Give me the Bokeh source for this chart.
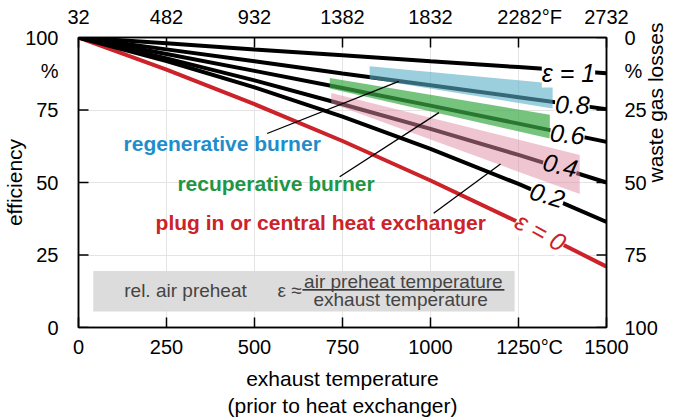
import math
from bokeh.plotting import figure
from bokeh.models import Range1d, LinearAxis, FixedTicker, Label
from bokeh.embed import file_html
from bokeh.resources import INLINE

# ---------------- data ----------------
temps_c = [0, 250, 500, 750, 1000, 1250, 1500]
eff_eps_0 = [100, 88.9, 77.0, 64.3, 50.7, 36.3, 21.0]
eff_eps_02 = [100, 91.9, 82.8, 72.7, 61.6, 49.5, 36.4]
eff_eps_04 = [100, 92.8, 85.2, 77.0, 68.5, 59.5, 50.0]
eff_eps_06 = [100, 94.3, 88.5, 82.6, 76.5, 70.3, 64.0]
eff_eps_08 = [100, 95.9, 91.8, 87.6, 83.5, 79.4, 75.3]
eff_eps_1 = [100, 98.0, 95.9, 93.9, 91.8, 89.8, 87.7]

celsius_ticks = [0, 250, 500, 750, 1000, 1250, 1500]
fahrenheit_ticks = [32, 482, 932, 1382, 1832, 2282, 2732]
efficiency_ticks = [0, 25, 50, 75, 100]
loss_ticks = [0, 25, 50, 75, 100]
percent_sign_efficiency = 88.3
percent_sign_loss = 11.7

regen_band_t = [827, 1347, 1347, 827]
regen_band_eff = [90.1, 84.1, 75.5, 85.8]
recup_band_t = [714, 1339, 1339, 714]
recup_band_eff = [86.0, 73.4, 65.2, 82.4]
plug_band_t = [718, 1424, 1424, 718]
plug_band_eff = [80.9, 59.5, 46.0, 77.3]

regen_pointer_t = [536, 910]
regen_pointer_eff = [66.9, 84.9]
recup_pointer_t = [742, 1024]
recup_pointer_eff = [52.0, 74.1]
plug_pointer_t = [1009, 1199]
plug_pointer_eff = [39.4, 56.4]

FONT = "Liberation Sans"
RED = "#cc2229"
BLUE = "#1f8dcc"
GREEN = "#1e9646"
NB = "\u00a0"

p = figure(width=682, height=420,
           x_range=Range1d(0, 1500), y_range=Range1d(0, 100),
           x_axis_location=None, y_axis_location=None,
           output_backend="svg", toolbar_location=None,
           min_border_left=78, min_border_right=76,
           min_border_top=37, min_border_bottom=92,
           background_fill_color="white", border_fill_color="white",
           outline_line_color="black", outline_line_width=1.5)

p.xgrid.ticker = FixedTicker(ticks=celsius_ticks)
p.ygrid.ticker = FixedTicker(ticks=efficiency_ticks)
p.xgrid.grid_line_color = "#e4e4e4"
p.ygrid.grid_line_color = "#e4e4e4"

p.extra_y_ranges = {"loss": Range1d(start=100, end=0)}
p.extra_x_ranges = {"fahrenheit": Range1d(start=32, end=2732)}


def style_axis(ax, standoff):
    ax.axis_line_color = "black"
    ax.axis_line_width = 1.5
    ax.major_tick_line_color = "black"
    ax.major_tick_line_width = 1.5
    ax.major_tick_in = 10
    ax.major_tick_out = 0
    ax.minor_tick_line_color = None
    ax.major_label_text_font = FONT
    ax.major_label_text_font_size = "20px"
    ax.major_label_text_color = "black"
    ax.major_label_standoff = standoff
    ax.axis_label_text_font = FONT
    ax.axis_label_text_font_size = "21px"
    ax.axis_label_text_font_style = "normal"
    ax.axis_label_text_color = "black"


bottom = LinearAxis(ticker=FixedTicker(ticks=celsius_ticks),
                    axis_label="exhaust temperature\n(prior to heat exchanger)")
style_axis(bottom, 8)
bottom.axis_label_standoff = 6
bottom.major_label_overrides = {1250: NB * 4 + "1250°C"}
p.add_layout(bottom, "below")

left = LinearAxis(ticker=FixedTicker(ticks=efficiency_ticks + [percent_sign_efficiency]),
                  axis_label="efficiency")
style_axis(left, 20)
left.major_tick_line_color = None
left.axis_label_standoff = -4
left.major_label_overrides = {percent_sign_efficiency: "%"}
p.add_layout(left, "left")

right = LinearAxis(y_range_name="loss",
                   ticker=FixedTicker(ticks=loss_ticks + [percent_sign_loss]),
                   axis_label="waste gas losses")
style_axis(right, 18)
right.major_tick_line_color = None
right.axis_label_standoff = -5
right.axis_label_orientation = math.pi / 2
right.major_label_overrides = {percent_sign_loss: "%"}
p.add_layout(right, "right")

top = LinearAxis(x_range_name="fahrenheit", ticker=FixedTicker(ticks=fahrenheit_ticks))
style_axis(top, 10)
top.major_label_overrides = {2282: NB * 4 + "2282°F"}
p.add_layout(top, "above")

# inward tick marks of the left / right axes (10 px long)
tick_len_t = 10 * 1500 / 528
p.segment(x0=[0] * len(efficiency_ticks), x1=[tick_len_t] * len(efficiency_ticks),
          y0=efficiency_ticks, y1=efficiency_ticks, line_color="black", line_width=1.5)
p.segment(x0=[1500 - tick_len_t] * len(efficiency_ticks), x1=[1500] * len(efficiency_ticks),
          y0=efficiency_ticks, y1=efficiency_ticks, line_color="black", line_width=1.5)

# legend box
p.quad(left=[42], right=[1239], top=[19.5], bottom=[5.5],
       fill_color="#dcdcdc", line_color=None)
p.add_layout(Label(x=304, y=12.7, text="rel. air preheat", text_font=FONT,
                   text_font_size="19px", text_align="center", text_baseline="middle"))
p.add_layout(Label(x=565, y=12.7, text="ε ≈", text_font=FONT,
                   text_font_size="19px", text_align="left", text_baseline="middle"))
p.add_layout(Label(x=923, y=15.9, text="air preheat temperature", text_font=FONT,
                   text_font_size="19px", text_align="center", text_baseline="middle"))
p.add_layout(Label(x=915, y=9.5, text="exhaust temperature", text_font=FONT,
                   text_font_size="19px", text_align="center", text_baseline="middle"))
p.line([636, 1210], [12.95, 12.95], line_color="black", line_width=1.3)

# efficiency lines
series = [(eff_eps_0, RED), (eff_eps_02, "black"), (eff_eps_04, "black"),
          (eff_eps_06, "black"), (eff_eps_08, "black"), (eff_eps_1, "black")]
for vals, col in series:
    p.line(temps_c, vals, line_color=col, line_width=4)

# burner bands
p.patch(plug_band_t, plug_band_eff, fill_color="#e18ca5", fill_alpha=0.5, line_color=None)
p.patch(recup_band_t, recup_band_eff, fill_color="#3caa46", fill_alpha=0.7, line_color=None)
p.patch(regen_band_t, regen_band_eff, fill_color="#5aafc8", fill_alpha=0.6, line_color=None)

# pointer lines
for xs, ys in [(regen_pointer_t, regen_pointer_eff), (recup_pointer_t, recup_pointer_eff),
               (plug_pointer_t, plug_pointer_eff)]:
    p.line(xs, ys, line_color="black", line_width=1.3)

# burner texts
p.add_layout(Label(x=128, y=63.6, text="regenerative burner", text_font=FONT,
                   text_font_style="bold", text_font_size="21px", text_color=BLUE,
                   text_align="left", text_baseline="middle"))
p.add_layout(Label(x=281, y=49.5, text="recuperative burner", text_font=FONT,
                   text_font_style="bold", text_font_size="21px", text_color=GREEN,
                   text_align="left", text_baseline="middle"))
p.add_layout(Label(x=219, y=36.1, text="plug in or central heat exchanger", text_font=FONT,
                   text_font_style="bold", text_font_size="21px", text_color=RED,
                   text_align="left", text_baseline="middle"))

# epsilon labels on the lines
eps_labels = [
    ("ε = 1", 1392, 87.6, 0.0, "black", "white"),
    ("0.8", 1403, 76.9, -0.03, "black", "white"),
    ("0.6", 1389, 66.7, -0.10, "black", "white"),
    ("0.4", 1369, 56.0, -0.22, "black", "#f0c5d2"),
    ("0.2", 1332, 45.7, -0.30, "black", "white"),
    ("ε = 0", 1313, 33.0, -0.50, RED, "white"),
]
for txt, x, y, ang, col, bg in eps_labels:
    p.add_layout(Label(x=x, y=y, text=txt, angle=ang, text_font=FONT,
                       text_font_style="italic", text_font_size="25px",
                       text_color=col, text_align="center", text_baseline="middle",
                       background_fill_color=bg))

open("out.html", "w").write(file_html(p, INLINE))
